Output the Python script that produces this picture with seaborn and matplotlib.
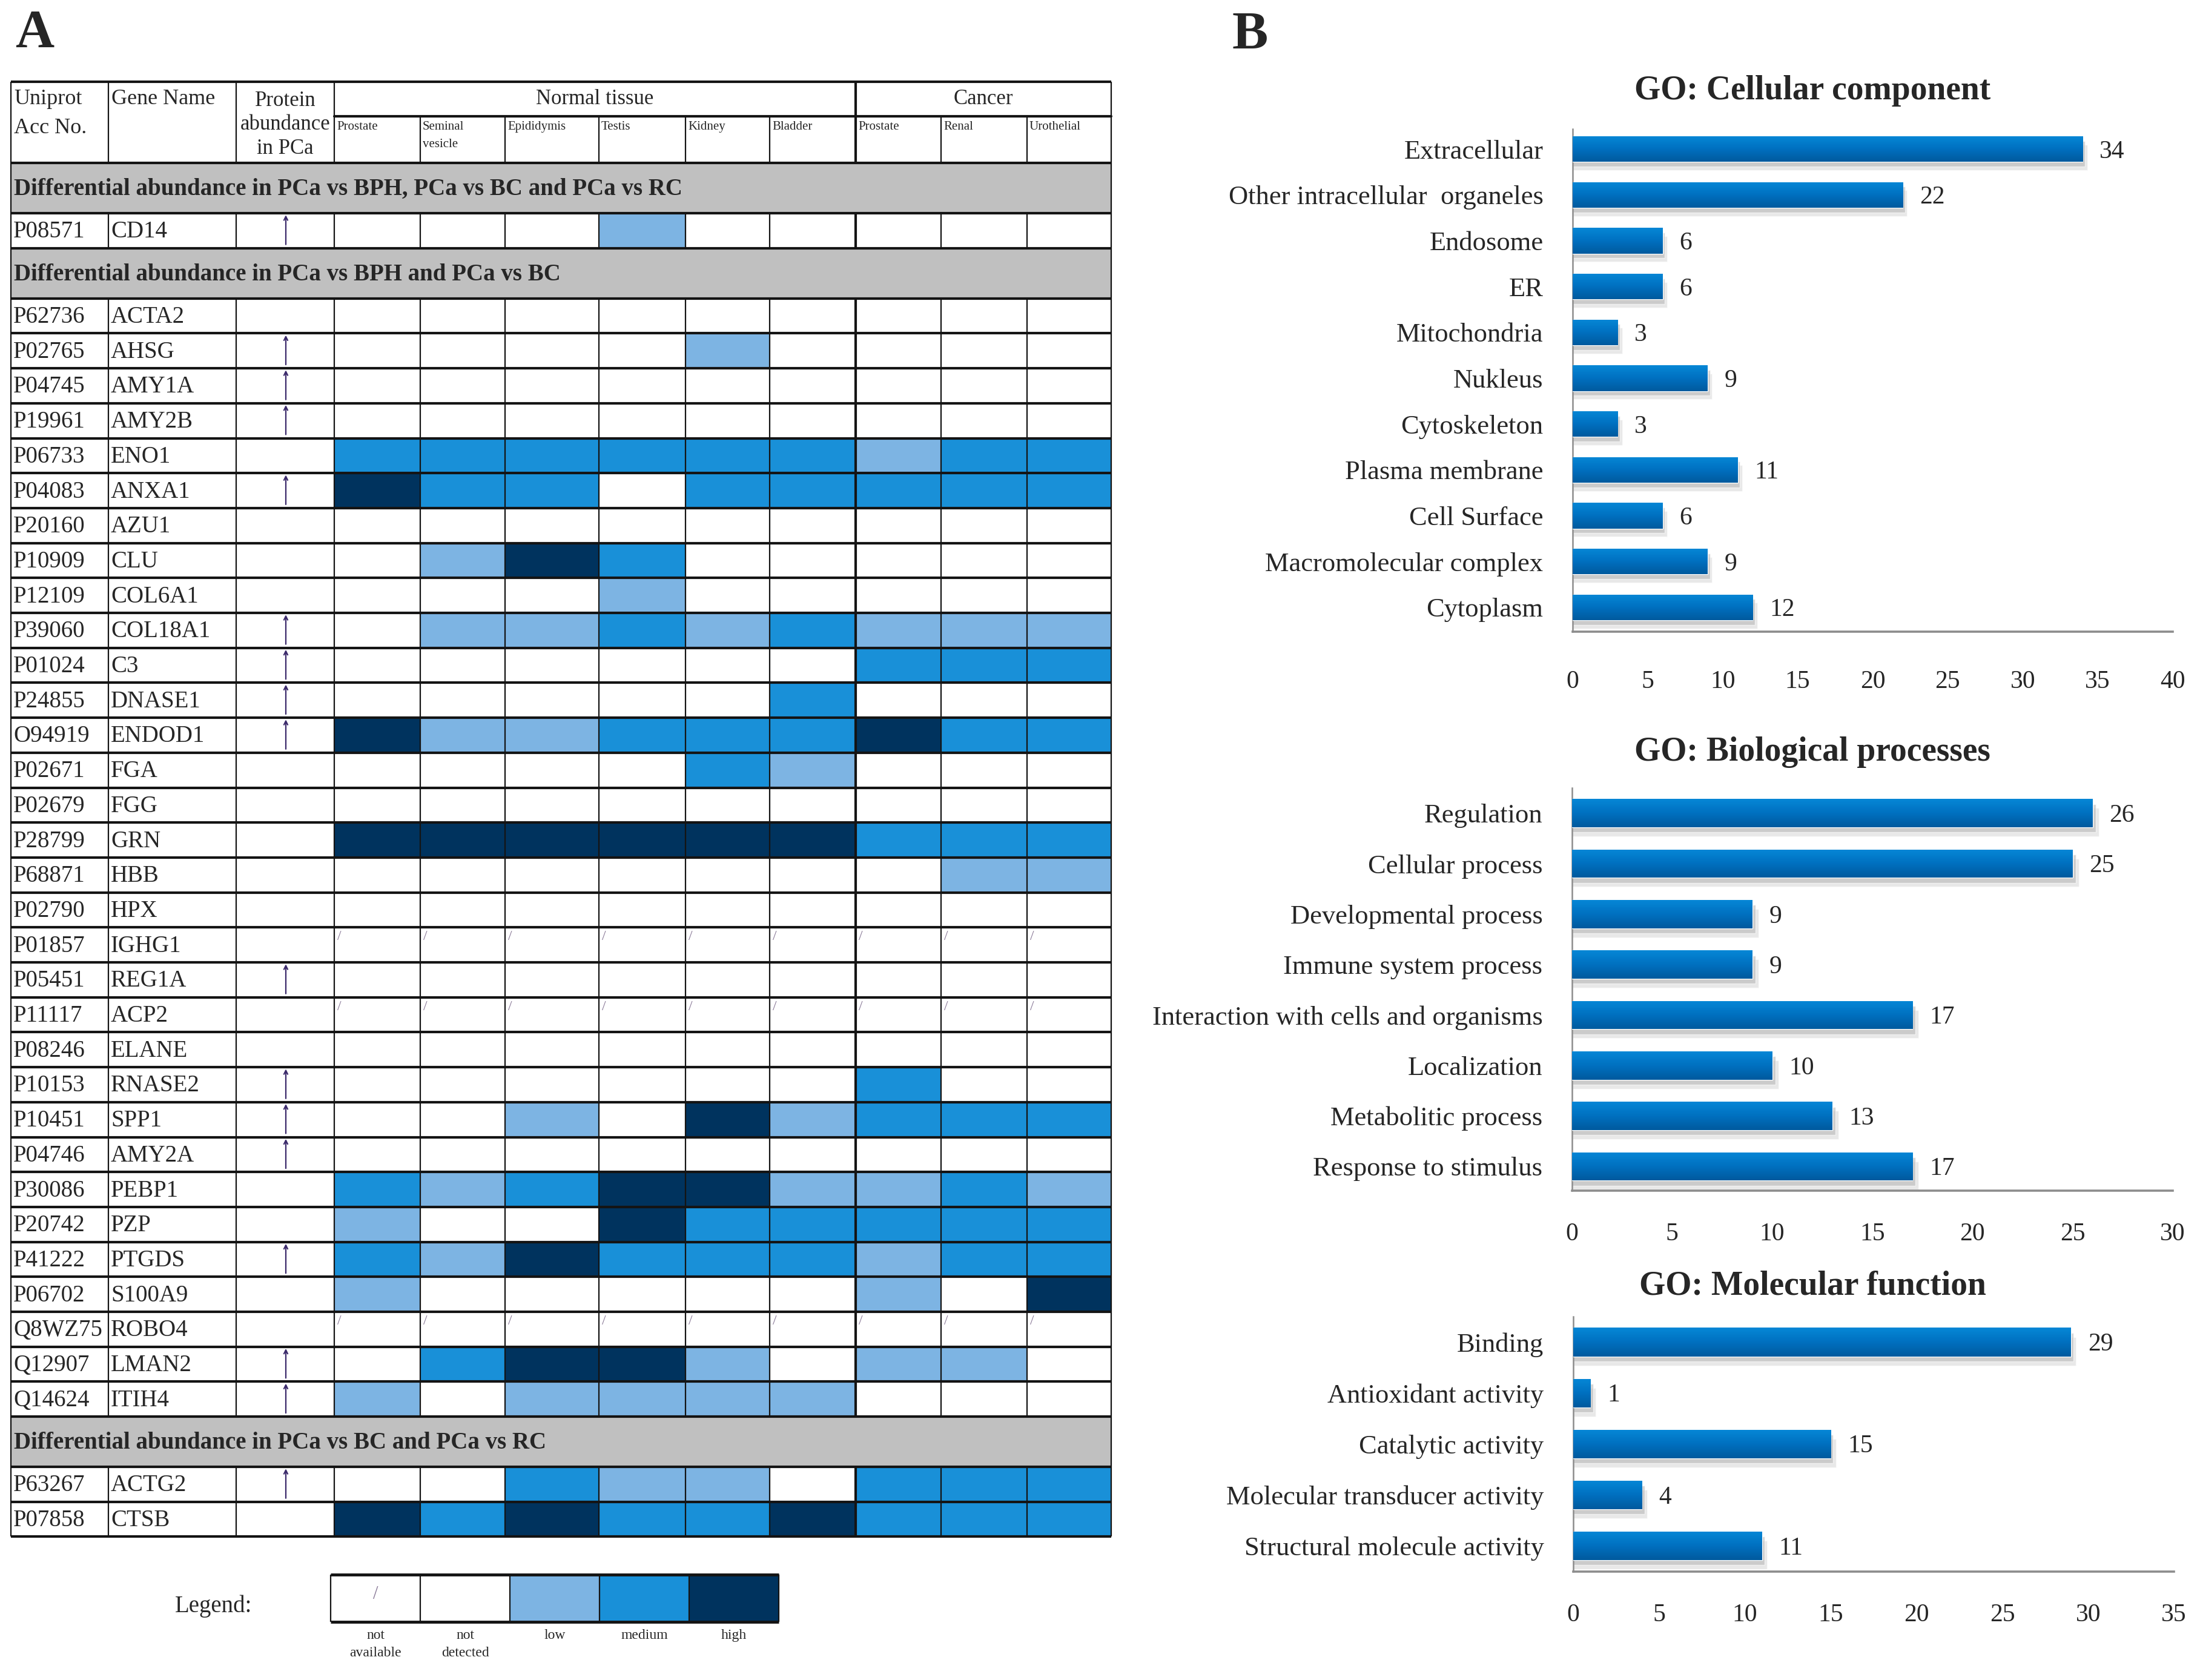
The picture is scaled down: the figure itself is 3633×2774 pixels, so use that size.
import numpy as np
import pandas as pd
import matplotlib.pyplot as plt
import seaborn as sns
from matplotlib.patches import Rectangle
from matplotlib.colors import LinearSegmentedColormap

# ---------------- Panel A data ----------------
group_titles = [
    "Differential abundance in PCa vs BPH, PCa vs BC and PCa vs RC",
    "Differential abundance in PCa vs BPH and PCa vs BC",
    "Differential abundance in PCa vs BC and PCa vs RC",
]
group_sizes = [1, 32, 2]

uniprot = ["P08571",
           "P62736", "P02765", "P04745", "P19961", "P06733", "P04083", "P20160", "P10909",
           "P12109", "P39060", "P01024", "P24855", "O94919", "P02671", "P02679", "P28799",
           "P68871", "P02790", "P01857", "P05451", "P11117", "P08246", "P10153", "P10451",
           "P04746", "P30086", "P20742", "P41222", "P06702", "Q8WZ75", "Q12907", "Q14624",
           "P63267", "P07858"]
genes = ["CD14",
         "ACTA2", "AHSG", "AMY1A", "AMY2B", "ENO1", "ANXA1", "AZU1", "CLU",
         "COL6A1", "COL18A1", "C3", "DNASE1", "ENDOD1", "FGA", "FGG", "GRN",
         "HBB", "HPX", "IGHG1", "REG1A", "ACP2", "ELANE", "RNASE2", "SPP1",
         "AMY2A", "PEBP1", "PZP", "PTGDS", "S100A9", "ROBO4", "LMAN2", "ITIH4",
         "ACTG2", "CTSB"]
up_in_pca = [1,
             0, 1, 1, 1, 0, 1, 0, 0,
             0, 1, 1, 1, 1, 0, 0, 0,
             0, 0, 0, 1, 0, 0, 1, 1,
             1, 0, 0, 1, 0, 0, 1, 1,
             1, 0]
# / = not available, N = not detected, L = low, M = medium, H = high
# columns: normal Prostate, Seminal vesicle, Epididymis, Testis, Kidney, Bladder | cancer Prostate, Renal, Urothelial
levels = ["NNNLNNNNN",
          "NNNNNNNNN", "NNNNLNNNN", "NNNNNNNNN", "NNNNNNNNN", "MMMMMMLMM", "HMMNMMMMM", "NNNNNNNNN", "NLHMNNNNN",
          "NNNLNNNNN", "NLLMLMLLL", "NNNNNNMMM", "NNNNNMNNN", "HLLMMMHMM", "NNNNMLNNN", "NNNNNNNNN", "HHHHHHMMM",
          "NNNNNNNLL", "NNNNNNNNN", "/////////", "NNNNNNNNN", "/////////", "NNNNNNNNN", "NNNNNNMNN", "NNLNHLMMM",
          "NNNNNNNNN", "MLMHHLLML", "LNNHMMMMM", "MLHMMMLMM", "LNNNNNLNH", "/////////", "NMHHLNLLN", "LNLLLLNNN",
          "NNMLLNMMM", "HMHMMHMMM"]

tissues = ["Prostate", "Seminal\nvesicle", "Epididymis", "Testis", "Kidney", "Bladder",
           "Prostate", "Renal", "Urothelial"]
legend_codes = ["/", "N", "L", "M", "H"]
legend_labels = ["not\navailable", "not\ndetected", "low", "medium", "high"]

# ---------------- Panel B data ----------------
cc_terms = ["Extracellular", "Other intracellular  organeles", "Endosome", "ER", "Mitochondria",
            "Nukleus", "Cytoskeleton", "Plasma membrane", "Cell Surface",
            "Macromolecular complex", "Cytoplasm"]
cc_counts = [34, 22, 6, 6, 3, 9, 3, 11, 6, 9, 12]

bp_terms = ["Regulation", "Cellular process", "Developmental process", "Immune system process",
            "Interaction with cells and organisms", "Localization", "Metabolitic process",
            "Response to stimulus"]
bp_counts = [26, 25, 9, 9, 17, 10, 13, 17]

mf_terms = ["Binding", "Antioxidant activity", "Catalytic activity",
            "Molecular transducer activity", "Structural molecule activity"]
mf_counts = [29, 1, 15, 4, 11]

# ---------------- style ----------------
sns.set_style("white")
plt.rcParams["font.family"] = ["Liberation Serif", "DejaVu Serif"]

LEVEL_COLORS = {"/": "#ffffff", "N": "#ffffff", "L": "#7db4e3", "M": "#1990d8", "H": "#00335e"}
BAND_GRAY = "#c0c0c0"
LINE = "#141414"

W, H = 3633, 2774
fig = plt.figure(figsize=(W / 100, H / 100), dpi=100)
ax = fig.add_axes([0, 0, 1, 1])
ax.set_xlim(0, W)
ax.set_ylim(H, 0)
ax.axis("off")

# table geometry (pixels)
col_edges = [18, 179, 390, 552, 694, 834, 989, 1132, 1271, 1413, 1554, 1696, 1835]
X0, X1 = col_edges[0], col_edges[-1]
TOP, HEAD_H, HEAD_SPLIT = 135, 134, 57
BAND_H, ROW_H = 83, 57.7
ARROW_X = 472


def vline(x, y0, y1, lw=1.6):
    ax.plot([x, x], [y0, y1], color=LINE, lw=lw, solid_capstyle="butt", zorder=5)


# header
ax.text(X0 + 5, TOP + 12, "Uniprot\nAcc No.", ha="left", va="top", fontsize=26, linespacing=1.6)
ax.text(col_edges[1] + 5, TOP + 12, "Gene Name", ha="left", va="top", fontsize=26)
ax.text((col_edges[2] + col_edges[3]) / 2, TOP + HEAD_H / 2 + 4, "Protein\nabundance\nin PCa",
        ha="center", va="center", fontsize=25, linespacing=1.25)
ax.text((col_edges[3] + col_edges[9]) / 2, TOP + 28, "Normal tissue", ha="center", va="center", fontsize=25)
ax.text((col_edges[9] + col_edges[12]) / 2, TOP + 28, "Cancer", ha="center", va="center", fontsize=25)
for c, name in enumerate(tissues):
    ax.text(col_edges[3 + c] + 4, TOP + HEAD_SPLIT + 8, name, ha="left", va="top",
            fontsize=15, linespacing=1.7)
for i in [0, 1, 2, 3, 12]:
    vline(col_edges[i], TOP, TOP + HEAD_H)
vline(col_edges[9], TOP, TOP + HEAD_H, lw=3)
for i in [4, 5, 6, 7, 8, 10, 11]:
    vline(col_edges[i], TOP + HEAD_SPLIT, TOP + HEAD_H)
ax.plot([col_edges[3], X1], [TOP + HEAD_SPLIT] * 2, color=LINE, lw=3, zorder=5)

hlines = [TOP, TOP + HEAD_H]
y = TOP + HEAD_H
r = 0
for title, size in zip(group_titles, group_sizes):
    ax.add_patch(Rectangle((X0, y), X1 - X0, BAND_H, facecolor=BAND_GRAY, edgecolor="none", zorder=1))
    ax.text(X0 + 5, y + BAND_H / 2 + 2, title, ha="left", va="center", fontsize=28, fontweight="bold")
    vline(X0, y, y + BAND_H)
    vline(X1, y, y + BAND_H)
    y += BAND_H
    hlines.append(y)
    y_start = y
    for _ in range(size):
        for c, code in enumerate(levels[r]):
            cx0, cx1 = col_edges[3 + c], col_edges[4 + c]
            ax.add_patch(Rectangle((cx0, y), cx1 - cx0, ROW_H, facecolor=LEVEL_COLORS[code],
                                   edgecolor="none", zorder=1))
            if code == "/":
                ax.text(cx0 + 5, y + 5, "/", ha="left", va="top", fontsize=17, color="#8a7a98")
        ax.text(X0 + 4, y + ROW_H / 2 + 2, uniprot[r], ha="left", va="center", fontsize=28)
        ax.text(col_edges[1] + 4, y + ROW_H / 2 + 2, genes[r], ha="left", va="center", fontsize=28)
        if up_in_pca[r]:
            ax.annotate("", xy=(ARROW_X, y + 3), xytext=(ARROW_X, y + ROW_H - 6),
                        arrowprops=dict(arrowstyle="->", color="#3b2a6b", lw=1.6,
                                        mutation_scale=11, shrinkA=0, shrinkB=0), zorder=6)
        y += ROW_H
        hlines.append(y)
        r += 1
    for i, xe in enumerate(col_edges):
        vline(xe, y_start, y, lw=3 if i == 9 else 1.6)

for yy in hlines:
    ax.plot([X0, X1], [yy, yy], color=LINE, lw=3, solid_capstyle="butt", zorder=6)

# legend
LEG_X, LEG_W, LEG_Y0, LEG_Y1 = 546, 148, 2600, 2678
ax.text(353, 2652, "Legend:", ha="center", va="center", fontsize=28)
for i, (code, lab) in enumerate(zip(legend_codes, legend_labels)):
    lx = LEG_X + i * LEG_W
    ax.add_patch(Rectangle((lx, LEG_Y0), LEG_W, LEG_Y1 - LEG_Y0, facecolor=LEVEL_COLORS[code],
                           edgecolor="none", zorder=1))
    if code == "/":
        ax.text(lx + LEG_W / 2, (LEG_Y0 + LEG_Y1) / 2 - 6, "/", ha="center", va="center",
                fontsize=22, color="#8a7a98")
    ax.text(lx + LEG_W / 2, LEG_Y1 + 12, lab, ha="center", va="top", fontsize=17, linespacing=1.5)
    vline(lx, LEG_Y0, LEG_Y1)
vline(LEG_X + 5 * LEG_W, LEG_Y0, LEG_Y1)
for yy in [LEG_Y0, LEG_Y1]:
    ax.plot([LEG_X, LEG_X + 5 * LEG_W], [yy, yy], color=LINE, lw=3.5, solid_capstyle="butt", zorder=6)

# panel letters
ax.text(57, 56, "A", ha="center", va="center", fontsize=64, fontweight="bold")
ax.text(2064, 58, "B", ha="center", va="center", fontsize=64, fontweight="bold")

# ---------------- Panel B bar charts ----------------
bar_cmap = LinearSegmentedColormap.from_list("bar", ["#0687d6", "#0070c0", "#005a9e"])
grad = np.linspace(0, 1, 64).reshape(-1, 1)


def go_panel(left, right, top, bottom, terms, counts, xmax, ylim, title, title_y, tick_pad):
    axb = fig.add_axes([left / W, 1 - bottom / H, (right - left) / W, (bottom - top) / H])
    df = pd.DataFrame({"term": terms, "count": counts})
    sns.barplot(data=df, x="count", y="term", orient="h", color="#0070c0", width=0.56,
                ax=axb, zorder=3)
    bars = list(axb.patches)
    pos = np.arange(len(terms))
    axb.barh(pos + 0.18, np.array(counts) + 0.3, height=0.56, color="#d2d2d2", alpha=0.5, zorder=1)
    axb.barh(pos + 0.10, np.array(counts) + 0.15, height=0.56, color="#b8b8b8", alpha=0.6, zorder=2)
    for p in bars:
        x, yb, w, h = p.get_x(), p.get_y(), p.get_width(), p.get_height()
        im = axb.imshow(grad, extent=[x, x + w, yb + h, yb], aspect="auto", cmap=bar_cmap,
                        zorder=4, interpolation="bilinear")
        im.set_clip_path(p)
    for i, v in enumerate(counts):
        axb.annotate(str(v), xy=(v, i), xytext=(20, -3), textcoords="offset points",
                     ha="left", va="center", fontsize=30)
    axb.set_xlim(0, xmax)
    axb.set_ylim(*ylim)
    axb.set_xticks(range(0, xmax + 1, 5))
    axb.set_xlabel("")
    axb.set_ylabel("")
    axb.tick_params(axis="x", length=0, pad=tick_pad, labelsize=30)
    axb.tick_params(axis="y", length=0, pad=35, labelsize=32)
    for s in ["top", "right"]:
        axb.spines[s].set_visible(False)
    axb.spines["left"].set_color("#8c8c8c")
    axb.spines["left"].set_linewidth(1.8)
    axb.spines["bottom"].set_color("#8c8c8c")
    axb.spines["bottom"].set_linewidth(2.6)
    axb.set_facecolor("none")
    fig.text(2993 / W, 1 - title_y / H, title, ha="center", va="center", fontsize=40, fontweight="bold")


go_panel(2597, 3588, 213, 1043, cc_terms, cc_counts, 40, (10.53, -0.44),
         "GO: Cellular component", 150, 46)
go_panel(2596, 3588, 1301, 1966, bp_terms, bp_counts, 30, (7.48, -0.5),
         "GO: Biological processes", 1242, 38)
go_panel(2598, 3590, 2174, 2595, mf_terms, mf_counts, 35, (4.51, -0.5),
         "GO: Molecular function", 2124, 38)

fig.savefig("out.png", dpi=100, facecolor="white")
